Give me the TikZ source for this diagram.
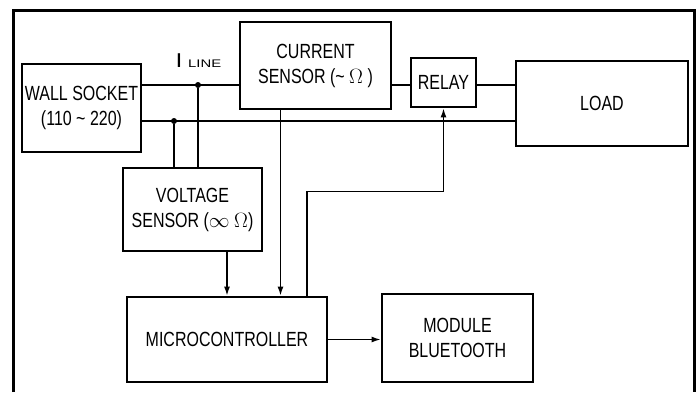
\documentclass[tikz,border=0pt]{standalone}
\usepackage{fontspec}
\setmainfont{Liberation Sans}[FakeStretch=0.78]
\newfontfamily\widefont{Liberation Sans}[FakeStretch=1.35]
\usetikzlibrary{arrows.meta}

\begin{document}
\begin{tikzpicture}[
  x=1pt, y=-1pt,
  box/.style={draw, line width=2.8pt, align=center, inner sep=0pt, font=\fontsize{20.5}{25}\selectfont},
  wire/.style={line width=1.4pt},
  arrow/.style={wire, -{Latex[length=9pt, width=6pt]}},
  junction/.style={circle, fill, inner sep=0pt, minimum size=6pt}
]
\useasboundingbox (0,0) rectangle (698,392);
\draw[line width=3pt] (13,392) -- (13,10) -- (694,10) -- (694,392);
\node[box, minimum width=119pt, minimum height=88pt] (socket) at (81.5,108) {WALL SOCKET\\(110 \textasciitilde{} 220)};
\node[box, minimum width=151pt, minimum height=87pt] (current) at (315.5,65.5) {CURRENT\\SENSOR (\textasciitilde{} $\Omega$ )};
\node[box, minimum width=65pt, minimum height=49pt] (relay) at (443.5,82.5) {RELAY};
\node[box, minimum width=172pt, minimum height=85pt] (load) at (602,103.5) {LOAD};
\node[box, minimum width=139pt, minimum height=83pt] (voltage) at (192.5,209.5) {VOLTAGE\\SENSOR ($\infty$ $\Omega$)};
\node[box, minimum width=200pt, minimum height=85pt] (micro) at (227,339.5) {MICROCONTROLLER};
\node[box, minimum width=151pt, minimum height=88pt] (bt) at (457.5,338) {MODULE\\BLUETOOTH};
\node[anchor=base] (iline) at (199,67) {\fontsize{20}{24}\selectfont\bfseries I\hspace{7pt}\mdseries\widefont\fontsize{11}{14}\selectfont LINE};
\node[junction] (jtop) at (198,85) {};
\node[junction] (jlow) at (174,121) {};
\coordinate (csout) at ([xshift=-35pt]current.south);
\coordinate (mcout) at ([xshift=80pt]micro.north);
\draw[wire] (socket.east |- jtop) -- (current.west |- jtop);
\draw[wire] (current.east |- jtop) -- (relay.west |- jtop);
\draw[wire] (relay.east |- jtop) -- (load.west |- jtop);
\draw[wire] (socket.east |- jlow) -- (load.west |- jlow);
\draw[wire] (jtop) -- (jtop |- voltage.north);
\draw[wire] (jlow) -- (jlow |- voltage.north);
\draw[arrow] (micro.north |- voltage.south) -- (micro.north);
\draw[arrow] (csout) -- (csout |- micro.north);
\draw[arrow] (mcout) -- ++(0,-104) -| (relay.south);
\draw[arrow] (micro.east) -- (bt.west |- micro.east);
\end{tikzpicture}
\end{document}
